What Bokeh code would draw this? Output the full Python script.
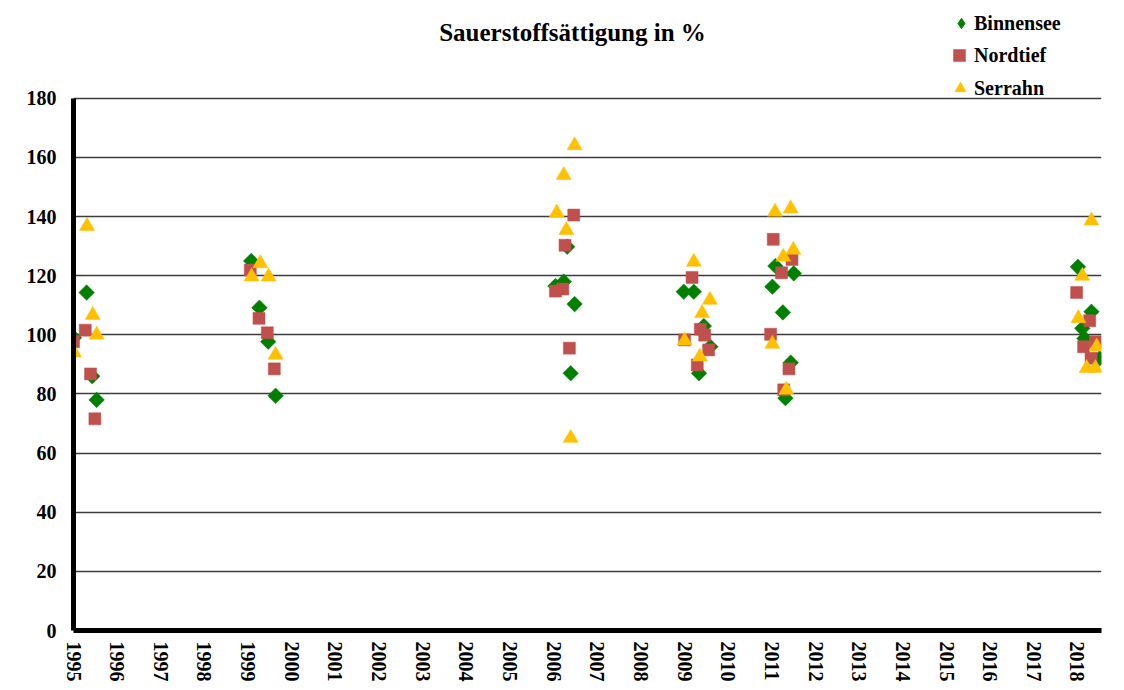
import numpy as np
from bokeh.plotting import figure
from bokeh.models import Range1d, FixedTicker, Legend, LegendItem, Label
from bokeh.embed import file_html
from bokeh.resources import INLINE

# ---- data (decimal year, oxygen saturation %) ----
binnensee_t = [1995.01, 1995.30, 1995.43, 1995.53,
               1999.07, 1999.26, 1999.46, 1999.63,
               2006.04, 2006.23, 2006.31, 2006.48, 2006.39,
               2008.98, 2009.21, 2009.44, 2009.59, 2009.33,
               2011.01, 2011.08, 2011.25, 2011.50, 2011.43, 2011.31,
               2018.01, 2018.32, 2018.11, 2018.16, 2018.51]
binnensee_v = [99, 114.3, 86, 78,
               125, 109.2, 97.7, 79.4,
               116.5, 118, 129.8, 110.4, 87,
               114.6, 114.6, 103, 96, 87,
               116.3, 123.3, 107.6, 120.8, 90.6, 78.6,
               123, 107.8, 102.2, 98.8, 92.1]

nordtief_t = [1995.00, 1995.27, 1995.39, 1995.49,
              1999.05, 1999.25, 1999.44, 1999.60,
              2006.04, 2006.21, 2006.26, 2006.46, 2006.36,
              2009.00, 2009.17, 2009.36, 2009.46, 2009.55, 2009.29,
              2010.97, 2011.03, 2011.22, 2011.46, 2011.39, 2011.27,
              2017.98, 2018.28, 2018.14, 2018.41, 2018.31]
nordtief_v = [97.7, 101.6, 86.8, 71.6,
              121.9, 105.6, 100.7, 88.5,
              114.8, 115.5, 130.3, 140.5, 95.5,
              98.3, 119.4, 101.9, 99.9, 94.9, 89.8,
              100.2, 132.3, 121, 125.5, 88.5, 81.4,
              114.3, 104.8, 96, 97.7, 92.1]

serrahn_t = [1995.01, 1995.31, 1995.44, 1995.53,
             1999.08, 1999.28, 1999.47, 1999.63,
             2006.07, 2006.23, 2006.29, 2006.48, 2006.39,
             2009.00, 2009.21, 2009.35, 2009.40, 2009.58,
             2011.01, 2011.07, 2011.26, 2011.33, 2011.43, 2011.49,
             2018.02, 2018.11, 2018.21, 2018.32, 2018.41, 2018.44]
serrahn_v = [94, 136.8, 106.7, 100,
             119.7, 124.2, 119.7, 93.2,
             141.3, 154, 135.4, 164.1, 65.1,
             98, 124.7, 92.6, 107.3, 111.8,
             96.9, 141.6, 126.4, 81.4, 142.7, 128.7,
             105.6, 119.9, 88.7, 138.6, 88.7, 96]

year_ticks = list(range(1995, 2019))
year_labels = [str(y) for y in year_ticks]
y_ticks = [0, 20, 40, 60, 80, 100, 120, 140, 160, 180]

title_text = "Sauerstoffsättigung in %"
series_names = ["Binnensee", "Nordtief", "Serrahn"]

GREEN = "#008000"
RED = "#C0504D"
YELLOW = "#FFC000"
FONT = "Liberation Serif"

# frame spans from the top of the figure down to the 0-line; the axis
# itself is bounded to 0..180 so the space above holds title and legend
Y_TOP = 180 * 631 / 533

p = figure(width=1116, height=684,
           x_range=Range1d(1995, 2018.55), y_range=Range1d(0, Y_TOP),
           output_backend="svg", toolbar_location=None,
           min_border_left=73, min_border_right=15,
           min_border_top=0, min_border_bottom=53)
p.outline_line_color = None
p.background_fill_color = "white"
p.border_fill_color = "white"

# grid
p.xgrid.grid_line_color = None
p.ygrid.ticker = FixedTicker(ticks=y_ticks)
p.ygrid.grid_line_color = "#3c3c3c"
p.ygrid.grid_line_width = 1.4

# axes
for ax in (p.xaxis[0], p.yaxis[0]):
    ax.axis_line_width = 5
    ax.axis_line_color = "black"
    ax.major_tick_line_color = None
    ax.minor_tick_line_color = None
    ax.major_tick_out = 0
    ax.major_tick_in = 0
    ax.major_label_text_font = FONT
    ax.major_label_text_font_style = "bold"
    ax.major_label_text_color = "black"

p.yaxis.ticker = FixedTicker(ticks=y_ticks)
p.yaxis.bounds = (0, 180)
p.yaxis.major_label_text_font_size = "20px"
p.yaxis.major_label_standoff = 17

p.xaxis.ticker = FixedTicker(ticks=year_ticks)
p.xaxis.major_label_overrides = {t: l for t, l in zip(year_ticks, year_labels)}
p.xaxis.major_label_orientation = "vertical"
p.xaxis.major_label_text_font_size = "20px"
p.xaxis.major_label_standoff = 11

# data
r1 = p.scatter(x=binnensee_t, y=binnensee_v, marker="square", angle=np.pi / 4,
               size=11, fill_color=GREEN, line_color=GREEN, line_width=0.5)
r2 = p.scatter(x=nordtief_t, y=nordtief_v, marker="square",
               size=12, fill_color=RED, line_color=RED, line_width=0.5)
r3 = p.scatter(x=serrahn_t, y=serrahn_v, marker="triangle",
               size=15, fill_color=YELLOW, line_color=YELLOW, line_width=0.5)

# legend-only key glyph for the diamond (legend keys ignore marker angle);
# its single point is NaN, so it draws nothing inside the plot
r1_key = p.scatter(x=[np.nan], y=[np.nan], marker="diamond", size=11,
                   fill_color=GREEN, line_color=GREEN)

# legend (three single-item legends for individual marker sizes)
def make_legend(label, rend, glyph, loc):
    lg = Legend(items=[LegendItem(label=label, renderers=[rend])],
                location=loc, orientation="vertical",
                glyph_width=glyph, glyph_height=glyph, label_height=glyph,
                label_standoff=0, padding=0, margin=0, spacing=0,
                border_line_color=None, background_fill_alpha=0,
                label_text_font=FONT, label_text_font_style="bold",
                label_text_font_size="20px", label_text_color="black")
    p.add_layout(lg, "center")

make_legend(series_names[0], r1_key, 26, (875, 594))
make_legend(series_names[1], r2, 30, (871, 560))
make_legend(series_names[2], r3, 28, (873, 528))

# title
p.add_layout(Label(x=499, y=598, x_units="screen", y_units="screen",
                   text=title_text, text_align="center", text_baseline="middle",
                   text_font=FONT, text_font_style="bold", text_font_size="25px",
                   text_color="black"))

open("out.html", "w").write(file_html(p, INLINE))
